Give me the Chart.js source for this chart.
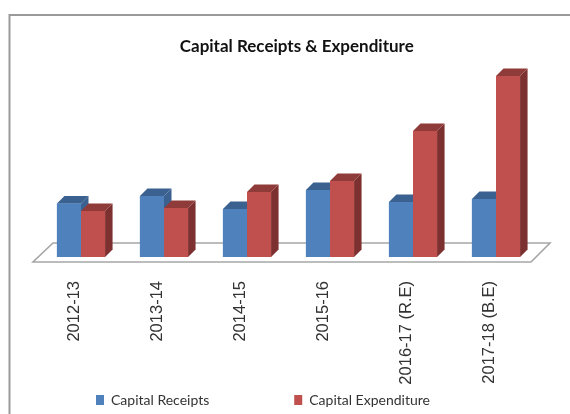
<!DOCTYPE html>
<html>
<head>
<meta charset="utf-8">
<style>
html,body{margin:0;padding:0;background:#fff;}
#wrap{width:570px;height:414px;position:relative;overflow:hidden;}
canvas{filter:blur(0.5px);}
</style>
<script src="https://cdn.jsdelivr.net/npm/chart.js@4"></script>
</head>
<body>
<div id="wrap"><canvas id="c" width="570" height="414"></canvas></div>
<script>
const categories = ["2012-13","2013-14","2014-15","2015-16","2016-17 (R.E)","2017-18 (B.E)"];
const capitalReceipts = [53.5,61,48,67,55,58];
const capitalExpenditure = [46,49,65,76,126,181];

const DEPTH = 7.5;
const frontColors = ["#4F81BD","#C0504D"];
const topColors = ["#3A6190","#8F3B39"];
const sideColors = ["#3A6190","#7C302F"];
const LEGEND_GAP = 85;

function poly(ctx, pts, fill){
  ctx.beginPath();
  pts.forEach((p,i)=> i ? ctx.lineTo(p[0],p[1]) : ctx.moveTo(p[0],p[1]));
  ctx.closePath();
  ctx.fillStyle = fill;
  ctx.fill();
}

const scene = {
  id:'scene',
  beforeInit(chart){
    const fit = chart.legend.fit;
    chart.legend.fit = function(){ fit.call(this); this.height = 20; };
  },
  afterLayout(chart){
    chart.legend.top = 308;
    chart.legend.left = 11;
    chart.titleBlock.left += 47;
  },
  beforeDraw(chart){
    const ctx = chart.ctx;
    ctx.save();
    ctx.strokeStyle = '#9a9a9a';
    ctx.lineWidth = 2;
    ctx.beginPath();
    ctx.moveTo(9.5,414);
    ctx.lineTo(9.5,15);
    ctx.lineTo(570,15);
    ctx.stroke();
    const a = chart.chartArea;
    const base = chart.scales.y.getPixelForValue(0);
    ctx.strokeStyle = '#a6a6a6';
    ctx.lineWidth = 1.6;
    ctx.beginPath();
    ctx.moveTo(a.left-6.5, base+5);
    ctx.lineTo(a.right-6.5, base+5);
    ctx.lineTo(a.right+12.5, base-14);
    ctx.lineTo(a.left+13.5, base-14);
    ctx.closePath();
    ctx.stroke();
    ctx.restore();
  },
  afterDatasetsDraw(chart){
    const ctx = chart.ctx;
    ctx.save();
    chart.data.datasets.forEach((ds,di)=>{
      chart.getDatasetMeta(di).data.forEach(bar=>{
        const l = bar.x-bar.width/2, r = bar.x+bar.width/2, t = bar.y, b = bar.base;
        poly(ctx,[[l,t],[l+DEPTH,t-DEPTH],[r+DEPTH,t-DEPTH],[r,t]],topColors[di]);
        poly(ctx,[[r,t],[r+DEPTH,t-DEPTH],[r+DEPTH,b-DEPTH],[r,b]],sideColors[di]);
        poly(ctx,[[l,t],[r,t],[r,b],[l,b]],frontColors[di]);
      });
    });
    ctx.restore();
  }
};

new Chart(document.getElementById('c'),{
  type:'bar',
  data:{
    labels:categories,
    datasets:[
      {label:'Capital Receipts',data:capitalReceipts,backgroundColor:frontColors[0]},
      {label:'Capital Expenditure',data:capitalExpenditure,backgroundColor:frontColors[1]}
    ]
  },
  options:{
    responsive:false,
    animation:false,
    layout:{padding:{left:9,right:32.5,top:36,bottom:0}},
    datasets:{bar:{categoryPercentage:0.58,barPercentage:1}},
    plugins:{
      tooltip:{enabled:false},
      title:{
        display:true,
        text:'Capital Receipts & Expenditure',
        color:'#111',
        font:{family:'Lato',size:17,weight:'bold'},
        padding:{top:0,bottom:0.6}
      },
      legend:{
        position:'bottom',
        align:'start',
        labels:{
          boxWidth:8,boxHeight:10,padding:LEGEND_GAP,
          color:'#333',
          font:{family:'Lato',size:14}
        }
      }
    },
    scales:{
      x:{
        grid:{display:false},
        border:{display:false},
        afterFit(s){s.height=137;},
        ticks:{
          minRotation:90,maxRotation:90,padding:16,color:'#333',labelOffset:-7,
          font:{family:'"Liberation Sans"',size:16.5}
        }
      },
      y:{
        min:0,max:200,
        grid:{display:false},
        border:{display:false},
        ticks:{display:false},
        afterFit(s){s.width=30.5;}
      }
    }
  },
  plugins:[scene]
});
</script>
</body>
</html>
